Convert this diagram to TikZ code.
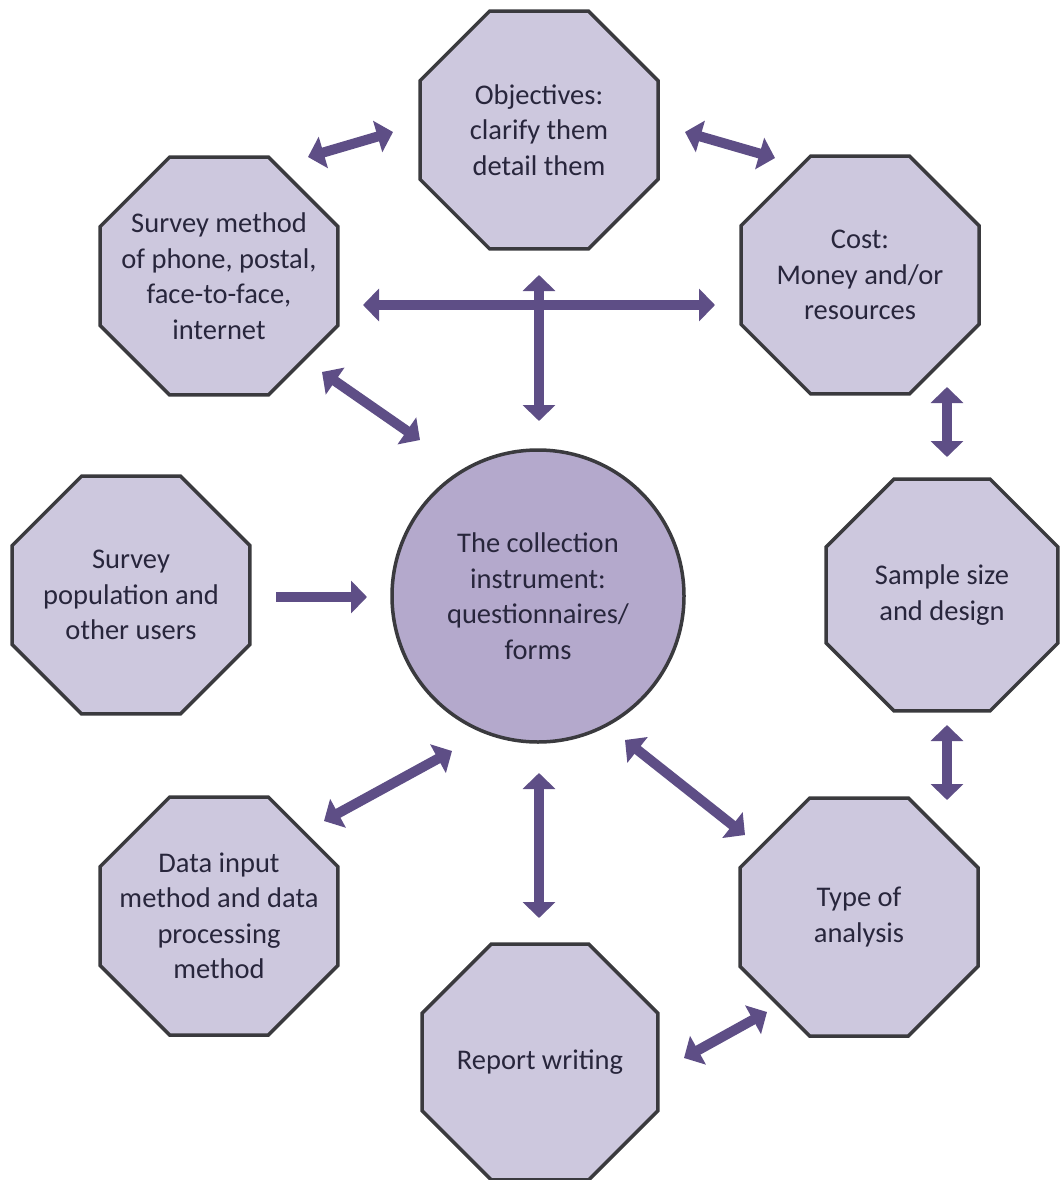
\documentclass[tikz,border=0pt]{standalone}
\usepackage{fontspec}
\setmainfont{Carlito}
\usetikzlibrary{shapes.geometric,arrows.meta}

\definecolor{octfill}{RGB}{205,200,222}
\definecolor{hubfill}{RGB}{180,169,204}
\definecolor{edgec}{RGB}{58,58,62}
\definecolor{linkc}{RGB}{94,78,134}
\definecolor{txtc}{RGB}{40,38,60}

\begin{document}
\begin{tikzpicture}[x=1pt,y=-1pt,
  txt/.style={align=center,text=txtc,font=\fontsize{28.5}{35.5}\selectfont},
  octa/.style={regular polygon,regular polygon sides=8,
    minimum size=257.6pt,inner sep=0pt,
    draw=edgec,line width=3.5pt,fill=octfill,label={[txt]center:{#1}}},
  hub/.style={circle,minimum size=292pt,inner sep=0pt,
    draw=edgec,line width=3.5pt,fill=hubfill,txt},
  link/.style={draw=linkc,line width=10pt,
    {Triangle[width=32pt,length=16pt]}-{Triangle[width=32pt,length=16pt]}},
  onelink/.style={draw=linkc,line width=10pt,-{Triangle[width=32pt,length=16pt]}}]
  \useasboundingbox (0,0) rectangle (1061,1180);
  \node[octa={Objectives:\\clarify them\\detail them}] (obj) at (539,130) {};
  \node[octa={Survey method\\of phone, postal,\\face-to-face,\\internet}] (meth) at (219,276) {};
  \node[octa={Cost:\\Money and/or\\resources}] (cost) at (860,275) {};
  \node[octa={Survey\\population and\\other users}] (pop) at (131,595) {};
  \node[hub] (inst) at (538,596) {The collection\\instrument:\\questionnaires/\\forms};
  \node[octa={Sample size\\and design},minimum size=251pt] (samp) at (942,595) {};
  \node[octa={Data input\\method and data\\processing\\method}] (data) at (219,916) {};
  \node[octa={Type of\\analysis}] (type) at (859,917) {};
  \node[octa={Report writing},minimum size=255pt] (rep) at (540,1062) {};
  % links
  \draw[link] ([shift={(89,-119)}]meth.center) -- ([shift={(-146,2)}]obj.center);
  \draw[link] ([shift={(146,2)}]obj.center) -- ([shift={(-85,-117)}]cost.center);
  \draw[link] ([shift={(144,29)}]meth.center) -- ([shift={(-145,30)}]cost.center);
  \draw[link] ([shift={(0,145)}]obj.center) -- ([shift={(1,-175)}]inst.center);
  \draw[link] ([shift={(103,96)}]meth.center) -- ([shift={(-118,-156)}]inst.center);
  \draw[onelink] ([shift={(145,2)}]pop.center) -- ([shift={(-171,1)}]inst.center);
  \draw[link] ([shift={(87,112)}]cost.center) -- ([shift={(5,-138)}]samp.center);
  \draw[link] ([shift={(-86,155)}]inst.center) -- ([shift={(105,-95)}]data.center);
  \draw[link] ([shift={(1,177)}]inst.center) -- ([shift={(-1,-144)}]rep.center);
  \draw[link] ([shift={(87,144)}]inst.center) -- ([shift={(-114,-82)}]type.center);
  \draw[link] ([shift={(5,130)}]samp.center) -- ([shift={(88,-117)}]type.center);
  \draw[link] ([shift={(144,-4)}]rep.center) -- ([shift={(-92,95)}]type.center);
\end{tikzpicture}
\end{document}
